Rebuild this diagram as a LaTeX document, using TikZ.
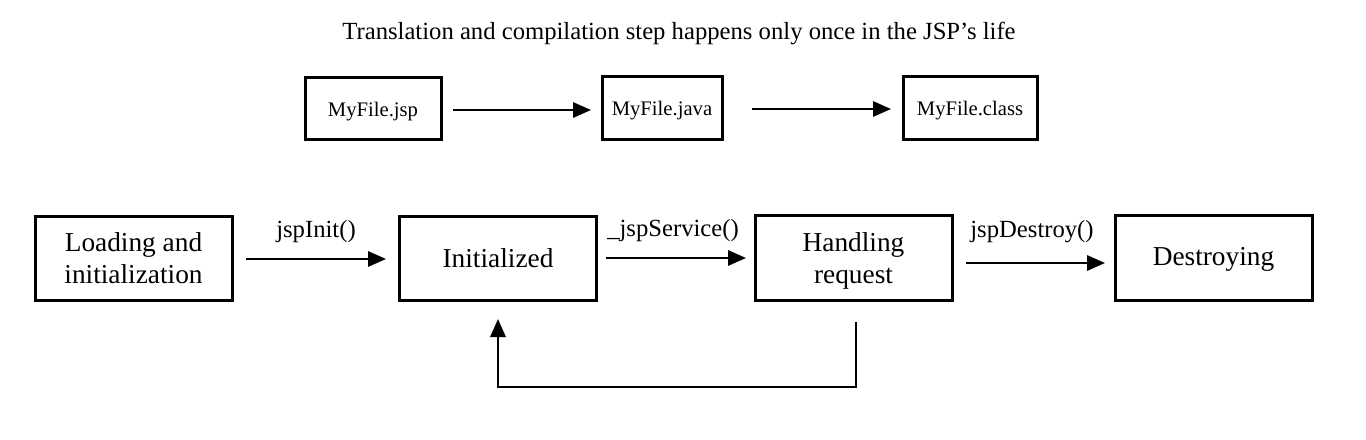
\documentclass[tikz,border=0pt]{standalone}
\usepackage{fontspec}
\setmainfont{Liberation Serif}
\usetikzlibrary{arrows.meta}
\newcommand{\lowerby}[2]{\raisebox{-#1}[\height][\depth]{#2}}
\begin{document}
\begin{tikzpicture}[x=0.75pt,y=-0.75pt,
  bigbox/.style={draw,line width=2.25pt,minimum width=147.75pt,minimum height=63pt,inner sep=0pt,align=center,font=\fontsize{20.5}{24}\selectfont},
  smallbox/.style={draw,line width=2.25pt,minimum height=47pt,inner sep=0pt,align=center,font=\fontsize{15.5}{18}\selectfont},
  conn/.style={line width=1.6pt,-{Triangle[length=13.5pt,width=11.5pt]}},
  lbl/.style={inner sep=0pt,font=\fontsize{18.5}{22}\selectfont},
  ttl/.style={inner sep=0pt,font=\fontsize{18.5}{22}\selectfont}]
\useasboundingbox (0,0) rectangle (1366,439);
\node[ttl] (title) at (679,33) {Translation and compilation step happens only once in the JSP’s life};
% top row
\node[smallbox,minimum width=102pt] (jsp) at (373,108.5) {\lowerby{2pt}{MyFile.jsp}};
\node[smallbox,minimum width=90pt] (java) at (662,108) {\lowerby{2pt}{MyFile.java}};
\node[smallbox,minimum width=100.5pt] (cls) at (970,108) {\lowerby{2pt}{MyFile.class}};
\coordinate (a1s) at (453,110); \coordinate (a1e) at (591,110);
\coordinate (a2s) at (752,109); \coordinate (a2e) at (891,109);
\draw[conn] (a1s) -- (a1e);
\draw[conn] (a2s) -- (a2e);
% bottom row
\node[bigbox] (load) at (133.5,258) {\lowerby{2.25pt}{\begin{tabular}{@{}c@{}}Loading and\\initialization\end{tabular}}};
\node[bigbox] (init) at (498,258) {Initialized};
\node[bigbox,minimum height=63.75pt] (hand) at (853.5,257.5) {\lowerby{3pt}{\begin{tabular}{@{}c@{}}Handling\\request\end{tabular}}};
\node[bigbox,minimum height=63.75pt] (dest) at (1213.5,257.5) {\lowerby{1.5pt}{Destroying}};
\coordinate (b1s) at (246,259); \coordinate (b1e) at (386,259);
\coordinate (b2s) at (606,258); \coordinate (b2e) at (746,258);
\coordinate (b3s) at (966,263); \coordinate (b3e) at (1105,263);
\draw[conn] (b1s) -- (b1e);
\draw[conn] (b2s) -- (b2e);
\draw[conn] (b3s) -- (b3e);
\node[lbl] (l1) at (316,232) {jspInit()};
\node[lbl] (l2) at (673,231) {\_jspService()};
\node[lbl] (l3) at (1032,232) {jspDestroy()};
% feedback
\coordinate (fbs) at (856,322);
\coordinate (fbc) at (856,387);
\coordinate (fbe) at (498,319);
\draw[conn] (fbs) -- (fbc) -| (fbe);
\end{tikzpicture}
\end{document}
